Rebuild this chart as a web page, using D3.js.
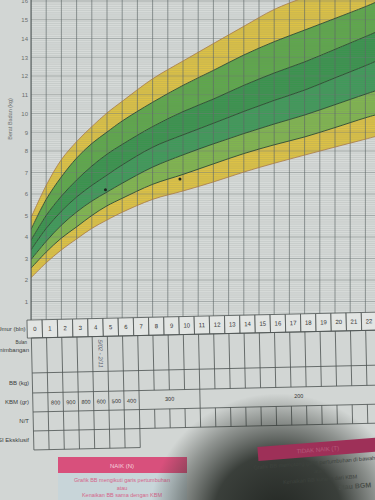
<!DOCTYPE html>
<html>
<head>
<meta charset="utf-8">
<script src="https://cdn.jsdelivr.net/npm/d3@7"></script>
<style>
  body { margin: 0; background: #d2d6d4; }
  svg { display: block; font-family: 'Liberation Sans', Arial, sans-serif; }
</style>
</head>
<body>
<script>
// KMS weight-for-age chart (photo)
const months  = [0, 1, 2, 3, 4, 5, 6, 8, 10, 12, 14, 16, 18, 20, 22, 23];
const sdPlus3 = [4.9, 6.4, 7.6, 8.5, 9.3, 10.03, 10.65, 11.85, 12.8, 13.73, 14.65, 15.55, 16.2, 16.8, 17.4, 17.8];
const sdPlus2 = [4.35, 5.75, 6.8, 7.67, 8.4, 9.01, 9.6, 10.6, 11.5, 12.3, 13.12, 13.83, 14.45, 15.07, 15.7, 16.05];
const sdPlus1 = [3.85, 5.0, 5.9, 6.65, 7.3, 7.85, 8.35, 9.3, 10.1, 10.77, 11.5, 12.16, 12.75, 13.42, 14.1, 14.45];
const median  = [3.4, 4.4, 5.2, 5.86, 6.4, 6.88, 7.35, 8.2, 8.86, 9.48, 10.11, 10.7, 11.25, 11.9, 12.55, 12.9];
const sdMin1  = [2.95, 3.8, 4.55, 5.16, 5.67, 6.09, 6.5, 7.25, 7.82, 8.38, 8.93, 9.44, 9.92, 10.47, 11.03, 11.3];
const sdMin2  = [2.55, 3.3, 3.95, 4.47, 5.0, 5.45, 5.8, 6.45, 6.91, 7.4, 7.88, 8.33, 8.75, 9.25, 9.77, 10.0];
const sdMin3  = [2.1, 2.8, 3.4, 3.91, 4.4, 4.79, 5.15, 5.75, 6.14, 6.56, 7.02, 7.43, 7.81, 8.21, 8.63, 8.85];

// child's plotted weights
const childMonths  = [4.9, 9.8];
const childWeights = [6.2, 6.7];

const kgTicks = [1, 2, 3, 4, 5, 6, 7, 8, 9, 10, 11, 12, 13, 14, 15, 16];
const monthTicks = d3.range(0, 24);

// KBM (kenaikan berat minimal) row
const kbmMonths = [1, 2, 3, 4, 5, 6];
const kbmValues = ['800', '900', '800', '600', '500', '400'];
const kbmSpans = [[7, 11, '300'], [11, 24, '200']];

const width = 375, height = 500;

const svg = d3.select('body').append('svg')
  .attr('width', width)
  .attr('height', height);

svg.append('rect').attr('width', width).attr('height', height).attr('fill', '#d2d6d4');

const x = d3.scaleLinear().domain([0, 22]).range([31, 31 + 15.2 * 22]);
// page is bent, so the kg scale is a bit tighter above 8
const y = d3.scaleLinear().domain([0, 8, 16]).range([323, 151, 1]);

const defs = svg.append('defs');
defs.append('clipPath').attr('id', 'plot')
  .append('rect').attr('x', 31).attr('y', 0).attr('width', width - 31).attr('height', 322);

const shadow = defs.append('radialGradient')
  .attr('id', 'shade')
  .attr('gradientUnits', 'userSpaceOnUse')
  .attr('cx', 278).attr('cy', 515).attr('r', 128)
  .attr('gradientTransform', 'translate(278,515) scale(1,0.95) translate(-278,-515)');
shadow.append('stop').attr('offset', '0').attr('stop-color', 'rgb(22,26,22)').attr('stop-opacity', 0.93);
shadow.append('stop').attr('offset', '0.5').attr('stop-color', 'rgb(25,30,25)').attr('stop-opacity', 0.82);
shadow.append('stop').attr('offset', '0.78').attr('stop-color', 'rgb(40,45,40)').attr('stop-opacity', 0.4);
shadow.append('stop').attr('offset', '1').attr('stop-color', 'rgb(40,45,40)').attr('stop-opacity', 0);

const plot = svg.append('g').attr('clip-path', 'url(#plot)');

plot.append('rect').attr('x', 31).attr('y', 0).attr('width', width - 31).attr('height', 322)
  .attr('fill', '#d6dad8');

// colour bands between the SD curves
const curves = [sdMin3, sdMin2, sdMin1, median, sdPlus1, sdPlus2, sdPlus3];
const bandColors = ['#dbc146', '#80b450', '#41995a', '#3b934e', '#5fa74c', '#dbc146'];

const area = d3.area()
  .x(d => x(d))
  .curve(d3.curveCatmullRom.alpha(0.5));

for (let b = 0; b < 6; b++) {
  const lo = curves[b], hi = curves[b + 1];
  area.y0((d, i) => y(lo[i])).y1((d, i) => y(hi[i]));
  plot.append('path')
    .attr('d', area(months))
    .attr('fill', bandColors[b]);
}

// fine horizontal lines every 0.1 kg
for (let v = 0.1; v < 16.5; v += 0.1) {
  plot.append('line')
    .attr('x1', 31).attr('x2', width)
    .attr('y1', y(v)).attr('y2', y(v))
    .style('stroke', '#7a8282')
    .style('stroke-width', '0.5px')
    .style('opacity', 0.3);
}
// kg lines
kgTicks.forEach(k => {
  plot.append('line')
    .attr('x1', 31).attr('x2', width)
    .attr('y1', y(k)).attr('y2', y(k))
    .style('stroke', '#727a7a')
    .style('stroke-width', '0.7px')
    .style('opacity', 0.55);
});
// month lines
monthTicks.forEach(m => {
  plot.append('line')
    .attr('x1', x(m)).attr('x2', x(m))
    .attr('y1', 0).attr('y2', 322)
    .style('stroke', '#5f6868')
    .style('stroke-width', '0.9px')
    .style('opacity', 0.7);
});

const line = d3.line()
  .x(d => x(d))
  .curve(d3.curveCatmullRom.alpha(0.5));

curves.forEach((c, k) => {
  line.y((d, i) => y(c[i]));
  plot.append('path')
    .attr('d', line(months))
    .attr('fill', 'none')
    .style('stroke', (k === 0 || k === 6) ? '#a87a48' : '#2c4a30')
    .style('stroke-width', (k === 0 || k === 6) ? '0.8px' : '0.9px');
});

plot.selectAll('.dot')
  .data(childMonths)
  .enter().append('circle')
  .attr('cx', d => x(d))
  .attr('cy', (d, i) => y(childWeights[i]))
  .attr('r', 1.5)
  .attr('fill', '#1e241e');

// left border of chart
svg.append('line')
  .attr('x1', 31).attr('x2', 31).attr('y1', 0).attr('y2', 322)
  .style('stroke', '#4f5757').style('stroke-width', '1px');

// y axis
const yAxis = svg.append('g')
  .attr('transform', 'translate(28,0)')
  .call(d3.axisLeft(y).tickValues(kgTicks).tickSize(0).tickPadding(0));
yAxis.select('.domain').remove();
yAxis.selectAll('text')
  .style('font-size', '6px')
  .style('fill', '#6a6e6c');

svg.append('text')
  .attr('transform', 'translate(12,119) rotate(-90)')
  .attr('text-anchor', 'middle')
  .style('font-size', '5.5px')
  .style('fill', '#6a6e6c')
  .text('Berat Badan (kg)');

// table below the chart, photographed slightly tilted
const table = svg.append('g').attr('transform', 'rotate(-1.3,31,322)');
const tStroke = '#4d5352';

// header row with months
monthTicks.forEach(m => {
  table.append('rect')
    .attr('x', x(m) - 4).attr('y', 320)
    .attr('width', x(m + 1) - x(m)).attr('height', 18)
    .attr('fill', '#e2e5e3')
    .style('stroke', tStroke).style('stroke-width', '0.8px');
  table.append('text')
    .attr('x', x(m) + 3.6).attr('y', 331)
    .attr('text-anchor', 'middle')
    .style('font-size', '6px')
    .style('fill', '#333')
    .text(m);
});

// horizontal row lines
[338, 373, 393, 412, 431].forEach(yy => {
  table.append('line')
    .attr('x1', 31).attr('x2', width + 20)
    .attr('y1', yy).attr('y2', yy)
    .style('stroke', tStroke).style('stroke-width', '0.8px');
});
table.append('line')
  .attr('x1', 31).attr('x2', x(7))
  .attr('y1', 450).attr('y2', 450)
  .style('stroke', tStroke).style('stroke-width', '0.8px');

// vertical cell lines
monthTicks.forEach(m => {
  // Bulan penimbangan + BB rows
  table.append('line')
    .attr('x1', x(m)).attr('x2', x(m)).attr('y1', 338).attr('y2', 393)
    .style('stroke', tStroke).style('stroke-width', '0.8px');
  // N/T row
  table.append('line')
    .attr('x1', x(m)).attr('x2', x(m)).attr('y1', 412).attr('y2', 431)
    .style('stroke', tStroke).style('stroke-width', '0.8px');
  // KBM row: single cells up to month 7, then spans
  if (m <= 7 || kbmSpans.some(s => s[0] === m)) {
    table.append('line')
      .attr('x1', x(m)).attr('x2', x(m)).attr('y1', 393).attr('y2', 412)
      .style('stroke', tStroke).style('stroke-width', '0.8px');
  }
  // ASI eksklusif row only months 0-6
  if (m <= 7) {
    table.append('line')
      .attr('x1', x(m)).attr('x2', x(m)).attr('y1', 431).attr('y2', 450)
      .style('stroke', tStroke).style('stroke-width', '0.8px');
  }
});

kbmMonths.forEach((m, i) => {
  table.append('text')
    .attr('x', (x(m) + x(m + 1)) / 2).attr('y', 405)
    .attr('text-anchor', 'middle')
    .style('font-size', '5.5px')
    .style('fill', '#333')
    .text(kbmValues[i]);
});
kbmSpans.forEach(s => {
  table.append('text')
    .attr('x', (x(s[0]) + x(s[1])) / 2).attr('y', 404)
    .attr('text-anchor', 'middle')
    .style('font-size', '5.5px')
    .style('fill', '#333')
    .text(s[2]);
});

// handwritten date in month-4 cell
table.append('text')
  .attr('transform', 'translate(' + (x(4) + 6) + ',341) rotate(90)')
  .style('font-size', '6px')
  .style('font-style', 'italic')
  .style('fill', '#5d6470')
  .text('5/02 - 2/11');

// row labels
const rowLabels = [
  ['Umur (bln)', 331],
  ['Bulan', 344],
  ['Penimbangan', 352],
  ['BB (kg)', 385],
  ['KBM (gr)', 404],
  ['N/T', 423],
  ['ASI Eksklusif', 442]
];
rowLabels.forEach(r => {
  svg.append('text')
    .attr('x', r[0] === 'Umur (bln)' ? 25.5 : (r[0] === 'Bulan' ? 27 : 29)).attr('y', r[1])
    .attr('text-anchor', 'end')
    .style('font-size', r[0] === 'Bulan' ? '4.5px' : '6px')
    .style('fill', '#3a3e3d')
    .text(r[0]);
});

// legend boxes at the bottom
svg.append('rect').attr('x', 58).attr('y', 457).attr('width', 129).attr('height', 16).attr('fill', '#d8507c');
svg.append('text').attr('x', 122).attr('y', 467.5).attr('text-anchor', 'middle')
  .style('font-size', '6px').style('fill', '#f6d2de').text('NAIK (N)');
svg.append('rect').attr('x', 58).attr('y', 473).attr('width', 129).attr('height', 30).attr('fill', '#c8d5d9');
['Grafik BB mengikuti garis pertumbuhan', 'atau', 'Kenaikan BB sama dengan KBM'].forEach((t, i) => {
  svg.append('text').attr('x', 122).attr('y', 482 + i * 7.5).attr('text-anchor', 'middle')
    .style('font-size', '5.5px').style('fill', '#d5658a').text(t);
});

// phone shadow on the bottom right of the photo
svg.append('rect').attr('width', width).attr('height', height).attr('fill', 'url(#shade)');

// right legend box, already in the shadow
const right = svg.append('g').attr('transform', 'rotate(-4.5,258,455)');
right.append('rect').attr('x', 258).attr('y', 447).attr('width', 150).attr('height', 14).attr('fill', '#9e3058');
right.append('text').attr('x', 318).attr('y', 456.5).attr('text-anchor', 'middle')
  .style('font-size', '6px').style('fill', '#b65d7e').text('TIDAK NAIK (T)');
['Grafik BB memotong garis pertumbuhan di bawahnya', 'atau', 'Kenaikan BB kurang dari KBM'].forEach((t, i) => {
  right.append('text').attr('x', 318).attr('y', 469 + i * 8.5).attr('text-anchor', 'middle')
    .style('font-size', '5.5px').style('fill', '#3e433e').text(t);
});
right.append('text').attr('x', 352).attr('y', 496).attr('text-anchor', 'middle')
  .style('font-size', '7px').style('font-weight', 'bold').style('fill', '#4a4f4a').text('atau BGM');
</script>
</body>
</html>
